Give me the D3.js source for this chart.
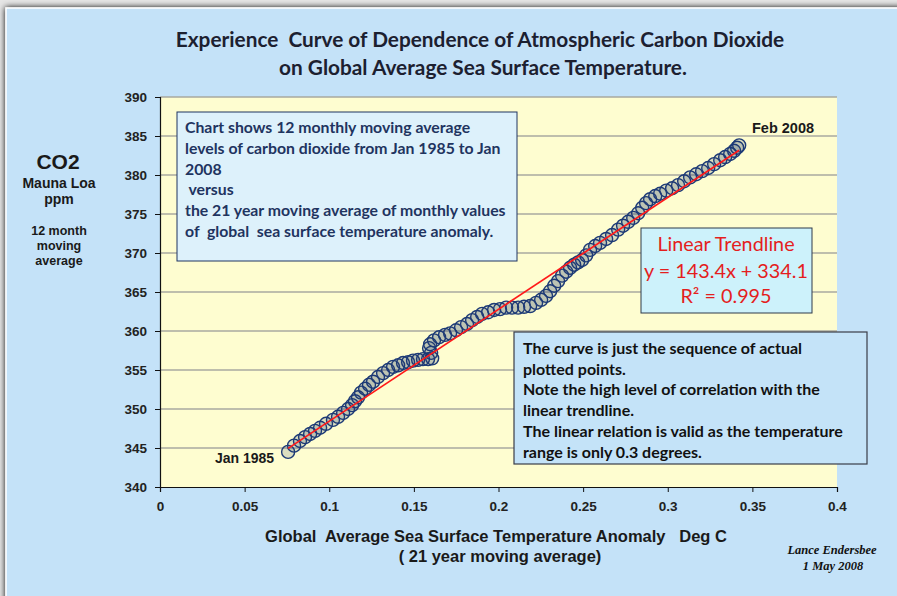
<!DOCTYPE html>
<html lang="en">
    <head>
        <meta charset="utf-8">
        <title>CO2 vs sea surface temperature</title>
        <script type="text/javascript" src="https://cdn.jsdelivr.net/npm/d3@7"></script>
        <style>
            body { margin: 0; background: #e6e6e6; }
            svg { display: block; }
            text { white-space: pre; }
            .tick text { font-family: "Liberation Sans", Arial, sans-serif; font-weight: bold; font-size: 13.5px; fill: #222; }
            .calibri { font-family: Lato, "Open Sans", sans-serif; }
            .arial { font-family: "Liberation Sans", Arial, sans-serif; font-weight: bold; }
        </style>
    </head>
    <body>
        <div id="chart"></div>
        <script type="text/javascript">
            // monthly moving averages, Jan 1985 .. Feb 2008
            var sst = [0.0757, 0.0792, 0.0827, 0.0857, 0.0887, 0.0916, 0.0946, 0.0981, 0.1022, 0.1052,
                       0.1082, 0.1111, 0.1135, 0.1152, 0.1170, 0.1188, 0.1212, 0.1235, 0.1259, 0.1288,
                       0.1318, 0.1348, 0.1377, 0.1407, 0.1436, 0.1466, 0.1495, 0.1525, 0.1554, 0.1584,
                       0.1608, 0.1602, 0.1590, 0.1596, 0.1619, 0.1649, 0.1684, 0.1714, 0.1749, 0.1779,
                       0.1814, 0.1844, 0.1874, 0.1903, 0.1939, 0.1974, 0.2009, 0.2045, 0.2080, 0.2116,
                       0.2151, 0.2187, 0.2222, 0.2252, 0.2281, 0.2305, 0.2329, 0.2352, 0.2376, 0.2400,
                       0.2423, 0.2447, 0.2470, 0.2494, 0.2518, 0.2541, 0.2571, 0.2600, 0.2636, 0.2671,
                       0.2707, 0.2736, 0.2766, 0.2796, 0.2825, 0.2849, 0.2872, 0.2896, 0.2926, 0.2955,
                       0.2991, 0.3026, 0.3061, 0.3097, 0.3132, 0.3168, 0.3203, 0.3239, 0.3274, 0.3310,
                       0.3339, 0.3369, 0.3392, 0.3410, 0.3422];
            var co2 = [344.5, 345.3, 345.9, 346.4, 346.8, 347.2, 347.6, 348.1, 348.6, 349.0,
                       349.5, 350.0, 350.5, 351.0, 351.5, 352.1, 352.6, 353.1, 353.5, 354.1,
                       354.6, 355.0, 355.4, 355.6, 355.9, 356.0, 356.2, 356.3, 356.4, 356.4,
                       356.5, 357.2, 357.8, 358.3, 358.8, 359.2, 359.5, 359.7, 360.1, 360.5,
                       360.9, 361.4, 361.8, 362.2, 362.4, 362.7, 362.8, 363.0, 363.0, 363.0,
                       363.1, 363.2, 363.6, 364.0, 364.5, 365.1, 365.8, 366.4, 367.1, 367.6,
                       368.1, 368.5, 368.8, 369.1, 369.7, 370.4, 370.9, 371.3, 371.8, 372.3,
                       373.0, 373.5, 374.0, 374.5, 375.1, 375.8, 376.4, 376.9, 377.3, 377.6,
                       378.0, 378.3, 378.7, 379.2, 379.7, 380.1, 380.5, 380.9, 381.4, 381.9,
                       382.3, 382.7, 383.1, 383.5, 383.8];
            // linear trendline as stated on the chart
            var slope = 143.4;
            var intercept = 334.1;
            var yTicks = [340, 345, 350, 355, 360, 365, 370, 375, 380, 385, 390];
            var xTicks = [0, 0.05, 0.1, 0.15, 0.2, 0.25, 0.3, 0.35, 0.4];
            var xTickLabels = ["0", "0.05", "0.1", "0.15", "0.2", "0.25", "0.3", "0.35", "0.4"];

            var w = 897;
            var h = 596;
            var svg = d3.select("#chart")
                        .append("svg")
                        .attr("width", w)
                        .attr("height", h);

            // slide frame with a soft shadow
            var defs = svg.append("defs");
            var sh = defs.append("filter").attr("id", "shadow")
                         .attr("x", "-5%").attr("y", "-5%").attr("width", "110%").attr("height", "110%");
            sh.append("feGaussianBlur").attr("in", "SourceAlpha").attr("stdDeviation", 3);
            sh.append("feOffset").attr("dx", 0).attr("dy", 0).attr("result", "b");
            var mg = sh.append("feMerge");
            mg.append("feMergeNode").attr("in", "b");
            mg.append("feMergeNode").attr("in", "SourceGraphic");

            svg.append("rect")
               .attr("x", 6).attr("y", 8)
               .attr("width", w + 20).attr("height", h + 20)
               .attr("fill", "#c4e2f8")
               .attr("stroke", "#ffffff")
               .attr("stroke-width", 1.5)
               .attr("filter", "url(#shadow)");

            var x = d3.scaleLinear().domain([0, 0.4]).range([160, 837]);
            var y = d3.scaleLinear().domain([340, 390]).range([487, 97]);

            // plot area
            svg.append("rect")
               .attr("x", x(0)).attr("y", y(390))
               .attr("width", x(0.4) - x(0)).attr("height", y(340) - y(390))
               .attr("fill", "#fefdd0");

            svg.append("g")
               .selectAll("line")
               .data(yTicks.filter(function(d) { return d > 340; }))
               .enter().append("line")
               .attr("x1", x(0)).attr("x2", x(0.4))
               .attr("y1", function(d) { return y(d); })
               .attr("y2", function(d) { return y(d); })
               .attr("stroke", "#a8a8a0")
               .attr("stroke-width", 1.5);

            // title
            var title = svg.append("text")
               .attr("class", "calibri")
               .attr("text-anchor", "middle")
               .attr("font-weight", "bold")
               .attr("font-size", 20.8)
               .attr("fill", "#1c2030");
            title.append("tspan").attr("x", 480).attr("y", 47)
                 .text("Experience  Curve of Dependence of Atmospheric Carbon Dioxide");
            title.append("tspan").attr("x", 483).attr("y", 75)
                 .text("on Global Average Sea Surface Temperature.");

            // axes
            var yAxis = d3.axisLeft(y).tickValues(yTicks).tickSize(5).tickPadding(8)
                          .tickFormat(d3.format("d"));
            var xAxis = d3.axisBottom(x).tickValues(xTicks).tickSize(5).tickPadding(9)
                          .tickFormat(function(d, i) { return xTickLabels[i]; });
            svg.append("g")
               .attr("transform", "translate(" + x(0) + ",0)")
               .call(yAxis);
            svg.append("g")
               .attr("transform", "translate(0," + y(340) + ")")
               .call(xAxis);
            svg.selectAll(".domain").attr("stroke", "#111").attr("stroke-width", 1.2);
            svg.selectAll(".tick line").attr("stroke", "#111");

            // markers
            var x0 = d3.min(sst), x1 = d3.max(sst);
            svg.append("g")
               .selectAll("circle")
               .data(d3.range(sst.length))
               .enter().append("circle")
               .attr("cx", function(i) { return x(sst[i]); })
               .attr("cy", function(i) { return y(co2[i]); })
               .attr("r", 6.5)
               .attr("fill", "rgba(40,60,110,0.16)")
               .attr("stroke", "#1d3a76")
               .attr("stroke-width", 1.4);
            // trendline on top of the markers
            svg.append("line")
               .attr("x1", x(x0)).attr("y1", y(slope * x0 + intercept))
               .attr("x2", x(x1)).attr("y2", y(slope * x1 + intercept))
               .attr("stroke", "#ff1a1a")
               .attr("stroke-width", 1.7);

            // point labels
            svg.append("text").attr("class", "arial").attr("font-size", 14).attr("fill", "#1a1a1a")
               .attr("x", 215).attr("y", 463).text("Jan 1985");
            svg.append("text").attr("class", "arial").attr("font-size", 14.5).attr("fill", "#1a1a1a")
               .attr("x", 752).attr("y", 133).text("Feb 2008");

            // y axis title
            var yt = svg.append("g").attr("class", "arial").attr("text-anchor", "middle").attr("fill", "#1a1a1a");
            yt.append("text").attr("x", 58).attr("y", 169).attr("font-size", 21).text("CO2");
            yt.append("text").attr("x", 59).attr("y", 188).attr("font-size", 14).text("Mauna Loa");
            yt.append("text").attr("x", 59).attr("y", 204).attr("font-size", 14).text("ppm");
            yt.append("text").attr("x", 59).attr("y", 235).attr("font-size", 12.5).text("12 month");
            yt.append("text").attr("x", 59).attr("y", 250).attr("font-size", 12.5).text("moving");
            yt.append("text").attr("x", 59).attr("y", 265).attr("font-size", 12.5).text("average");

            // x axis title
            var xt = svg.append("g").attr("class", "arial").attr("text-anchor", "middle")
                        .attr("fill", "#1a1a1a").attr("font-size", 16.5);
            xt.append("text").attr("x", 496).attr("y", 542)
              .text("Global  Average Sea Surface Temperature Anomaly   Deg C");
            xt.append("text").attr("x", 500).attr("y", 562).text("( 21 year moving average)");

            // description box
            svg.append("rect")
               .attr("x", 177).attr("y", 112).attr("width", 340).attr("height", 149)
               .attr("fill", "#ddf1fb").attr("stroke", "#1f3460").attr("stroke-width", 1);
            var note1 = ["Chart shows 12 monthly moving average",
                         "levels of carbon dioxide from Jan 1985 to Jan",
                         "2008",
                         " versus",
                         "the 21 year moving average of monthly values",
                         "of  global  sea surface temperature anomaly."];
            svg.append("g").selectAll("text")
               .data(note1).enter().append("text")
               .attr("class", "calibri")
               .attr("x", 185)
               .attr("y", function(d, i) { return 133 + i * 20.8; })
               .attr("font-size", 15.8).attr("font-weight", "bold")
               .attr("fill", "#1f3460")
               .text(function(d) { return d; });

            // trendline box
            svg.append("rect")
               .attr("x", 641).attr("y", 228).attr("width", 171).attr("height", 85)
               .attr("fill", "#cdf2fb").attr("stroke", "#2e3a4a").attr("stroke-width", 1);
            var tr = svg.append("g").attr("class", "calibri").attr("text-anchor", "middle")
                        .attr("fill", "#e41e1e").attr("font-size", 19.8);
            tr.append("text").attr("x", 726).attr("y", 251).text("Linear Trendline");
            tr.append("text").attr("x", 726).attr("y", 278).text("y = 143.4x + 334.1");
            tr.append("text").attr("x", 726).attr("y", 303).text("R² = 0.995");

            // comment box
            svg.append("rect")
               .attr("x", 514).attr("y", 332).attr("width", 353).attr("height", 132)
               .attr("fill", "#c4e3f8").attr("stroke", "#3a3d48").attr("stroke-width", 1.2);
            var note2 = ["The curve is just the sequence of actual",
                         "plotted points.",
                         "Note the high level of correlation with the",
                         "linear trendline.",
                         "The linear relation is valid as the temperature",
                         "range is only 0.3 degrees."];
            svg.append("g").selectAll("text")
               .data(note2).enter().append("text")
               .attr("class", "calibri")
               .attr("x", 523)
               .attr("y", function(d, i) { return 354 + i * 20.7; })
               .attr("font-size", 16).attr("font-weight", "bold")
               .attr("fill", "#111")
               .text(function(d) { return d; });

            // signature
            var sig = svg.append("g").attr("text-anchor", "middle")
                         .attr("font-family", "'Liberation Serif', 'Times New Roman', serif")
                         .attr("font-style", "italic").attr("font-weight", "bold")
                         .attr("font-size", 12.5).attr("fill", "#111");
            sig.append("text").attr("x", 832).attr("y", 554).text("Lance Endersbee");
            sig.append("text").attr("x", 833).attr("y", 570).text("1 May 2008");
        </script>
    </body>
</html>
